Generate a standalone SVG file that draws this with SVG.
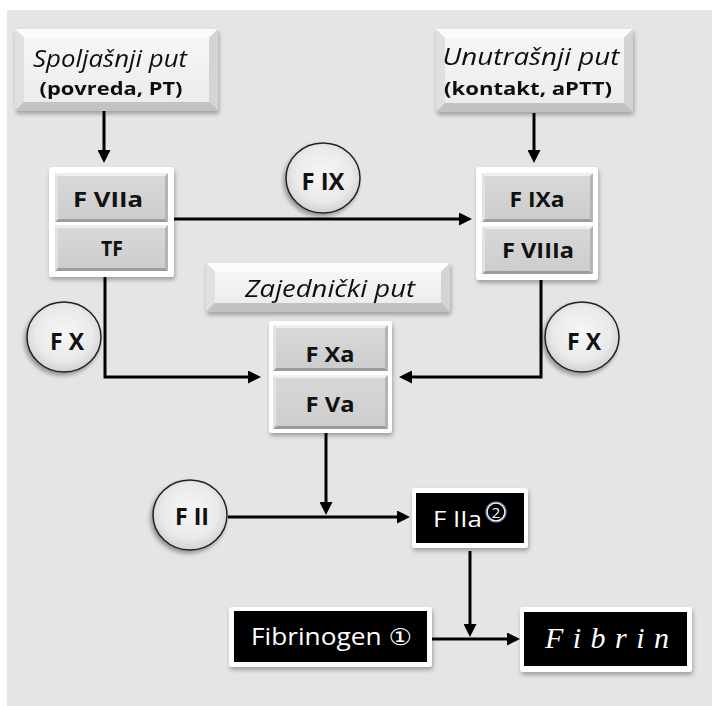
<svg xmlns="http://www.w3.org/2000/svg" width="712" height="706" viewBox="0 0 712 706">
<style>
.lbl{font-family:"Open Sans","Liberation Sans",sans-serif;font-size:24px;font-style:italic;fill:#111}
.sub{font-family:"Open Sans","Liberation Sans",sans-serif;font-size:17px;font-weight:bold;fill:#111}
.btxt{font-family:"Open Sans","Liberation Sans",sans-serif;font-size:21px;font-weight:bold;fill:#111}
.ctxt{font-family:"Open Sans","Liberation Sans",sans-serif;font-size:24px;font-weight:bold;fill:#111}
.wtxt{font-family:"Open Sans","Liberation Sans","DejaVu Sans",sans-serif;font-size:22px;fill:#fff}
.ftxt{font-family:"Liberation Serif","DejaVu Serif",serif;font-size:30px;font-style:italic;fill:#fff}
.lt{fill:#fbfbfb}.ll{fill:#e0e0e0}.lr{fill:#d4d4d4}.lb{fill:#c2c2c2}.lf{fill:url(#lface)}
.bt{fill:#eeeeee}.bl{fill:#e2e2e2}.br{fill:#b4b4b4}.bb{fill:#9c9c9c}.bf{fill:url(#bface)}
.grp{fill:#fff;filter:url(#sh)}
.blk{fill:#000}
.circ{fill:url(#cface);stroke:#222;stroke-width:1.5;filter:url(#csh)}
.con{fill:none;stroke:#000;stroke-width:3;marker-end:url(#ah)}
</style>
<defs>
<linearGradient id="lface" x1="0" y1="0" x2="0" y2="1"><stop offset="0" stop-color="#f6f6f6"/><stop offset="1" stop-color="#ececec"/></linearGradient>
<linearGradient id="bface" x1="0" y1="0" x2="0" y2="1"><stop offset="0" stop-color="#d8d8d8"/><stop offset="1" stop-color="#cdcdcd"/></linearGradient>
<radialGradient id="cface" cx="0.5" cy="0.45" r="0.55"><stop offset="0" stop-color="#f6f6f6"/><stop offset="0.7" stop-color="#eaeaea"/><stop offset="1" stop-color="#d2d2d2"/></radialGradient>
<filter id="sh" x="-10%" y="-10%" width="125%" height="130%"><feDropShadow dx="1" dy="3" stdDeviation="2" flood-color="#000" flood-opacity="0.3"/></filter>
<filter id="csh" x="-20%" y="-20%" width="140%" height="145%"><feDropShadow dx="-2" dy="3" stdDeviation="2" flood-color="#000" flood-opacity="0.35"/></filter>
<marker id="ah" markerUnits="userSpaceOnUse" markerWidth="13" markerHeight="13" refX="2" refY="6.5" orient="auto"><path d="M0,0 L13,6.5 L0,13 z" fill="#000"/></marker>
</defs>
<rect x="0" y="0" width="712" height="706" fill="#fff"/>
<rect x="7" y="10" width="705" height="696" fill="#e5e5e5"/>

<g id="connectors">
<path class="con" d="M104,111 V152"/>
<path class="con" d="M534,113 V152"/>
<path class="con" d="M174,219 H461"/>
<path class="con" d="M105,277 V377 H250"/>
<path class="con" d="M541,280 V377 H410"/>
<path class="con" d="M326,433 V504"/>
<path class="con" d="M228,517 H399"/>
<path class="con" d="M470,551 V626"/>
<path class="con" d="M432,639 H509"/>
</g>

<g id="spoljasnji" filter="url(#sh)">
<polygon class="lt" points="15,29 218,29 209,38 24,38"/>
<polygon class="ll" points="15,29 24,38 24,102 15,111"/>
<polygon class="lr" points="218,29 218,111 209,102 209,38"/>
<polygon class="lb" points="15,111 24,102 209,102 218,111"/>
<rect class="lf" x="24" y="38" width="185" height="64"/>
<text class="lbl" x="110" y="67" text-anchor="middle" textLength="154" lengthAdjust="spacingAndGlyphs">Spoljašnji put</text>
<text class="sub" x="111" y="95" text-anchor="middle" textLength="143" lengthAdjust="spacingAndGlyphs">(povreda, PT)</text>
</g>

<g id="unutrasnji" filter="url(#sh)">
<polygon class="lt" points="436,29 633,29 624,38 445,38"/>
<polygon class="ll" points="436,29 445,38 445,103 436,112"/>
<polygon class="lr" points="633,29 633,112 624,103 624,38"/>
<polygon class="lb" points="436,112 445,103 624,103 633,112"/>
<rect class="lf" x="445" y="38" width="179" height="65"/>
<text class="lbl" x="531" y="65" text-anchor="middle" textLength="177" lengthAdjust="spacingAndGlyphs">Unutrašnji put</text>
<text class="sub" x="528" y="95" text-anchor="middle" textLength="168" lengthAdjust="spacingAndGlyphs">(kontakt, aPTT)</text>
</g>

<g id="zajednicki" filter="url(#sh)">
<polygon class="lt" points="206,263 450,263 441,272 215,272"/>
<polygon class="ll" points="206,263 215,272 215,303 206,312"/>
<polygon class="lr" points="450,263 450,312 441,303 441,272"/>
<polygon class="lb" points="206,312 215,303 441,303 450,312"/>
<rect class="lf" x="215" y="272" width="226" height="31"/>
<text class="lbl" x="330" y="297" text-anchor="middle" textLength="170" lengthAdjust="spacingAndGlyphs">Zajednički  put</text>
</g>

<g id="fviia-tf">
<rect class="grp" x="49" y="167" width="125" height="110" rx="3"/>
<polygon class="bt" points="55,173 168,173 165,176 58,176"/>
<polygon class="bl" points="55,173 58,176 58,219 55,222"/>
<polygon class="br" points="168,173 168,222 165,219 165,176"/>
<polygon class="bb" points="55,222 58,219 165,219 168,222"/>
<rect class="bf" x="58" y="176" width="107" height="43"/>
<text class="btxt" x="108" y="207" text-anchor="middle" textLength="70" lengthAdjust="spacingAndGlyphs">F VIIa</text>
<polygon class="bt" points="55,225 168,225 165,228 58,228"/>
<polygon class="bl" points="55,225 58,228 58,268 55,271"/>
<polygon class="br" points="168,225 168,271 165,268 165,228"/>
<polygon class="bb" points="55,271 58,268 165,268 168,271"/>
<rect class="bf" x="58" y="228" width="107" height="40"/>
<text class="btxt" x="112" y="256" text-anchor="middle" textLength="22" lengthAdjust="spacingAndGlyphs">TF</text>
</g>

<g id="fixa-fviiia">
<rect class="grp" x="476" y="167" width="122" height="113" rx="3"/>
<polygon class="bt" points="482,173 593,173 590,176 485,176"/>
<polygon class="bl" points="482,173 485,176 485,219 482,222"/>
<polygon class="br" points="593,173 593,222 590,219 590,176"/>
<polygon class="bb" points="482,222 485,219 590,219 593,222"/>
<rect class="bf" x="485" y="176" width="105" height="43"/>
<text class="btxt" x="537" y="207" text-anchor="middle" textLength="55" lengthAdjust="spacingAndGlyphs">F IXa</text>
<polygon class="bt" points="482,226 593,226 590,229 485,229"/>
<polygon class="bl" points="482,226 485,229 485,271 482,274"/>
<polygon class="br" points="593,226 593,274 590,271 590,229"/>
<polygon class="bb" points="482,274 485,271 590,271 593,274"/>
<rect class="bf" x="485" y="229" width="105" height="42"/>
<text class="btxt" x="538" y="258" text-anchor="middle" textLength="72" lengthAdjust="spacingAndGlyphs">F VIIIa</text>
</g>

<g id="fxa-fva">
<rect class="grp" x="269" y="321" width="123" height="112" rx="3"/>
<polygon class="bt" points="273,325 388,325 385,328 276,328"/>
<polygon class="bl" points="273,325 276,328 276,368 273,371"/>
<polygon class="br" points="388,325 388,371 385,368 385,328"/>
<polygon class="bb" points="273,371 276,368 385,368 388,371"/>
<rect class="bf" x="276" y="328" width="109" height="40"/>
<text class="btxt" x="330" y="362" text-anchor="middle" textLength="49" lengthAdjust="spacingAndGlyphs">F Xa</text>
<polygon class="bt" points="273,375 388,375 385,378 276,378"/>
<polygon class="bl" points="273,375 276,378 276,426 273,429"/>
<polygon class="br" points="388,375 388,429 385,426 385,378"/>
<polygon class="bb" points="273,429 276,426 385,426 388,429"/>
<rect class="bf" x="276" y="378" width="109" height="48"/>
<text class="btxt" x="330" y="412" text-anchor="middle" textLength="49" lengthAdjust="spacingAndGlyphs">F Va</text>
</g>

<g id="fix">
<ellipse class="circ" cx="323" cy="178" rx="37" ry="35"/>
<text class="ctxt" x="323" y="190" text-anchor="middle" textLength="43" lengthAdjust="spacingAndGlyphs">F IX</text>
</g>
<g id="fx-left">
<ellipse class="circ" cx="64" cy="337" rx="37" ry="35"/>
<text class="ctxt" x="67" y="350" text-anchor="middle" textLength="34" lengthAdjust="spacingAndGlyphs">F X</text>
</g>
<g id="fx-right">
<ellipse class="circ" cx="582" cy="337" rx="37" ry="35"/>
<text class="ctxt" x="584" y="350" text-anchor="middle" textLength="34" lengthAdjust="spacingAndGlyphs">F X</text>
</g>
<g id="fii">
<ellipse class="circ" cx="190" cy="515" rx="37" ry="35"/>
<text class="ctxt" x="192" y="525" text-anchor="middle" textLength="34" lengthAdjust="spacingAndGlyphs">F II</text>
</g>

<g id="fiia">
<rect class="grp" x="412" y="488" width="116" height="60" rx="3"/>
<rect class="blk" x="416" y="493" width="108" height="50"/>
<text class="wtxt" x="433" y="527" textLength="49" lengthAdjust="spacingAndGlyphs">F IIa</text>
<circle cx="496" cy="512" r="10" fill="none" stroke="#7aa0d8" stroke-width="1.2"/>
<circle cx="496" cy="512" r="8.8" fill="none" stroke="#fff" stroke-width="1.2"/>
<text x="496" y="518" text-anchor="middle" style="font-family:'Open Sans','Liberation Sans',sans-serif;font-size:15px;fill:#fff">2</text>
</g>

<g id="fibrinogen">
<rect class="grp" x="229" y="607" width="203" height="60" rx="3"/>
<rect class="blk" x="234" y="611" width="193" height="51"/>
<text class="wtxt" x="251" y="645" textLength="161" lengthAdjust="spacingAndGlyphs" style="font-size:23px">Fibrinogen ①</text>
</g>

<g id="fibrin">
<rect class="grp" x="520" y="607" width="172" height="65" rx="3"/>
<rect class="blk" x="524" y="612" width="163" height="54"/>
<text class="ftxt" x="545" y="648" textLength="124" lengthAdjust="spacing">Fibrin</text>
</g>
</svg>
